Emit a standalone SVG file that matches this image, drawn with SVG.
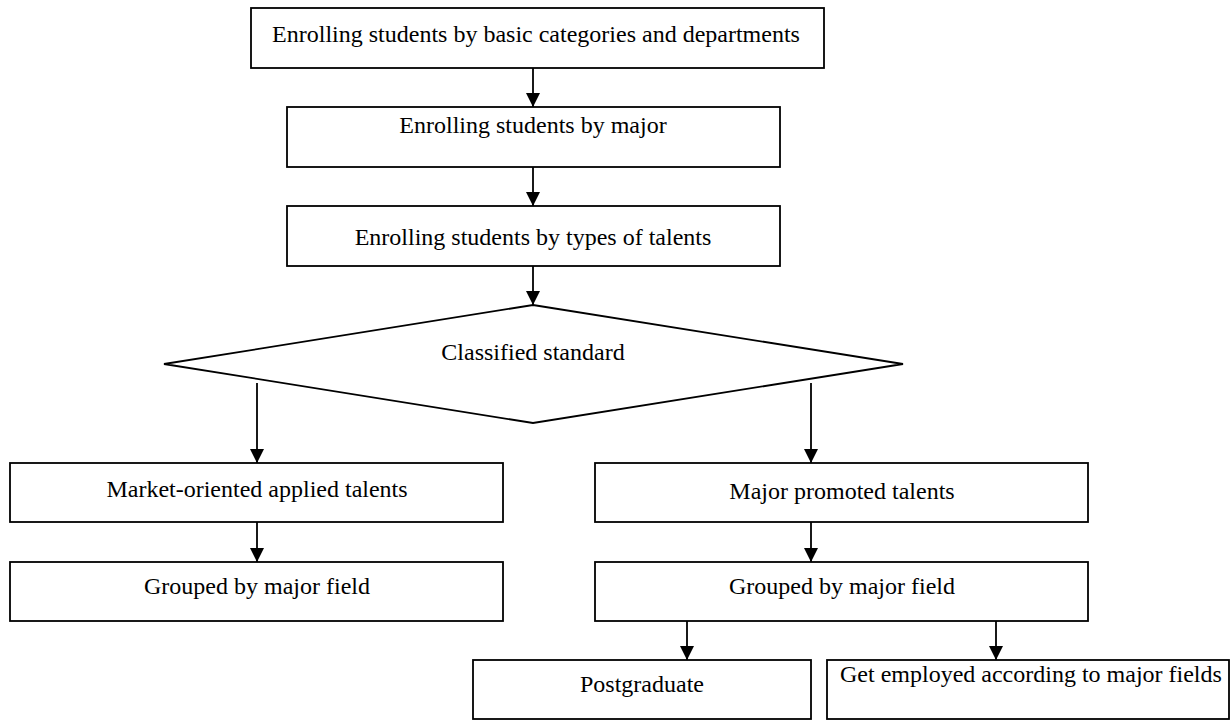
<svg xmlns="http://www.w3.org/2000/svg" width="1231" height="720" viewBox="0 0 1231 720">
<defs>
<marker id="ah" viewBox="0 0 14 14" refX="14" refY="7" markerWidth="14" markerHeight="14" markerUnits="userSpaceOnUse" orient="auto">
<path d="M0,0 L14,7 L0,14 Z" fill="#000"/>
</marker>
<style>
.box{fill:#fff;stroke:#000;stroke-width:1.8}
.t{font-family:"Liberation Serif","Times New Roman",serif;font-size:24px;fill:#000;text-anchor:middle}
.tl{font-family:"Liberation Serif","Times New Roman",serif;font-size:24px;fill:#000;text-anchor:start}
.c{stroke:#000;stroke-width:1.8;fill:none;marker-end:url(#ah)}
</style>
</defs>
<rect width="1231" height="720" fill="#fff"/>
<g id="connectors">
<line class="c" x1="533" y1="68" x2="533" y2="107"/>
<line class="c" x1="533" y1="167" x2="533" y2="206"/>
<line class="c" x1="533" y1="266" x2="533" y2="305"/>
<line class="c" x1="257" y1="383" x2="257" y2="463"/>
<line class="c" x1="811" y1="383" x2="811" y2="463"/>
<line class="c" x1="257" y1="522" x2="257" y2="562"/>
<line class="c" x1="811" y1="522" x2="811" y2="562"/>
<line class="c" x1="687" y1="621" x2="687" y2="660"/>
<line class="c" x1="996" y1="621" x2="996" y2="660"/>
</g>
<g id="n1"><rect class="box" x="251" y="8" width="573" height="60"/><text class="t" x="536" y="42">Enrolling students by basic categories and departments</text></g>
<g id="n2"><rect class="box" x="287" y="107" width="493" height="60"/><text class="t" x="533" y="133">Enrolling students by major</text></g>
<g id="n3"><rect class="box" x="287" y="206" width="493" height="60"/><text class="t" x="533" y="245">Enrolling students by types of talents</text></g>
<g id="n4"><polygon class="box" points="533,305 903,364 533,423 164,364"/><text class="t" x="533" y="360">Classified standard</text></g>
<g id="n5"><rect class="box" x="10" y="463" width="493" height="59"/><text class="t" x="257" y="497">Market-oriented applied talents</text></g>
<g id="n6"><rect class="box" x="595" y="463" width="493" height="59"/><text class="t" x="842" y="499">Major promoted talents</text></g>
<g id="n7"><rect class="box" x="10" y="562" width="493" height="59"/><text class="t" x="257" y="594">Grouped by major field</text></g>
<g id="n8"><rect class="box" x="595" y="562" width="493" height="59"/><text class="t" x="842" y="594">Grouped by major field</text></g>
<g id="n9"><rect class="box" x="473" y="660" width="338" height="59"/><text class="t" x="642" y="692">Postgraduate</text></g>
<g id="n10"><rect class="box" x="827" y="660" width="402" height="59"/><text class="tl" x="840" y="682">Get employed according to major fields</text></g>
</svg>
